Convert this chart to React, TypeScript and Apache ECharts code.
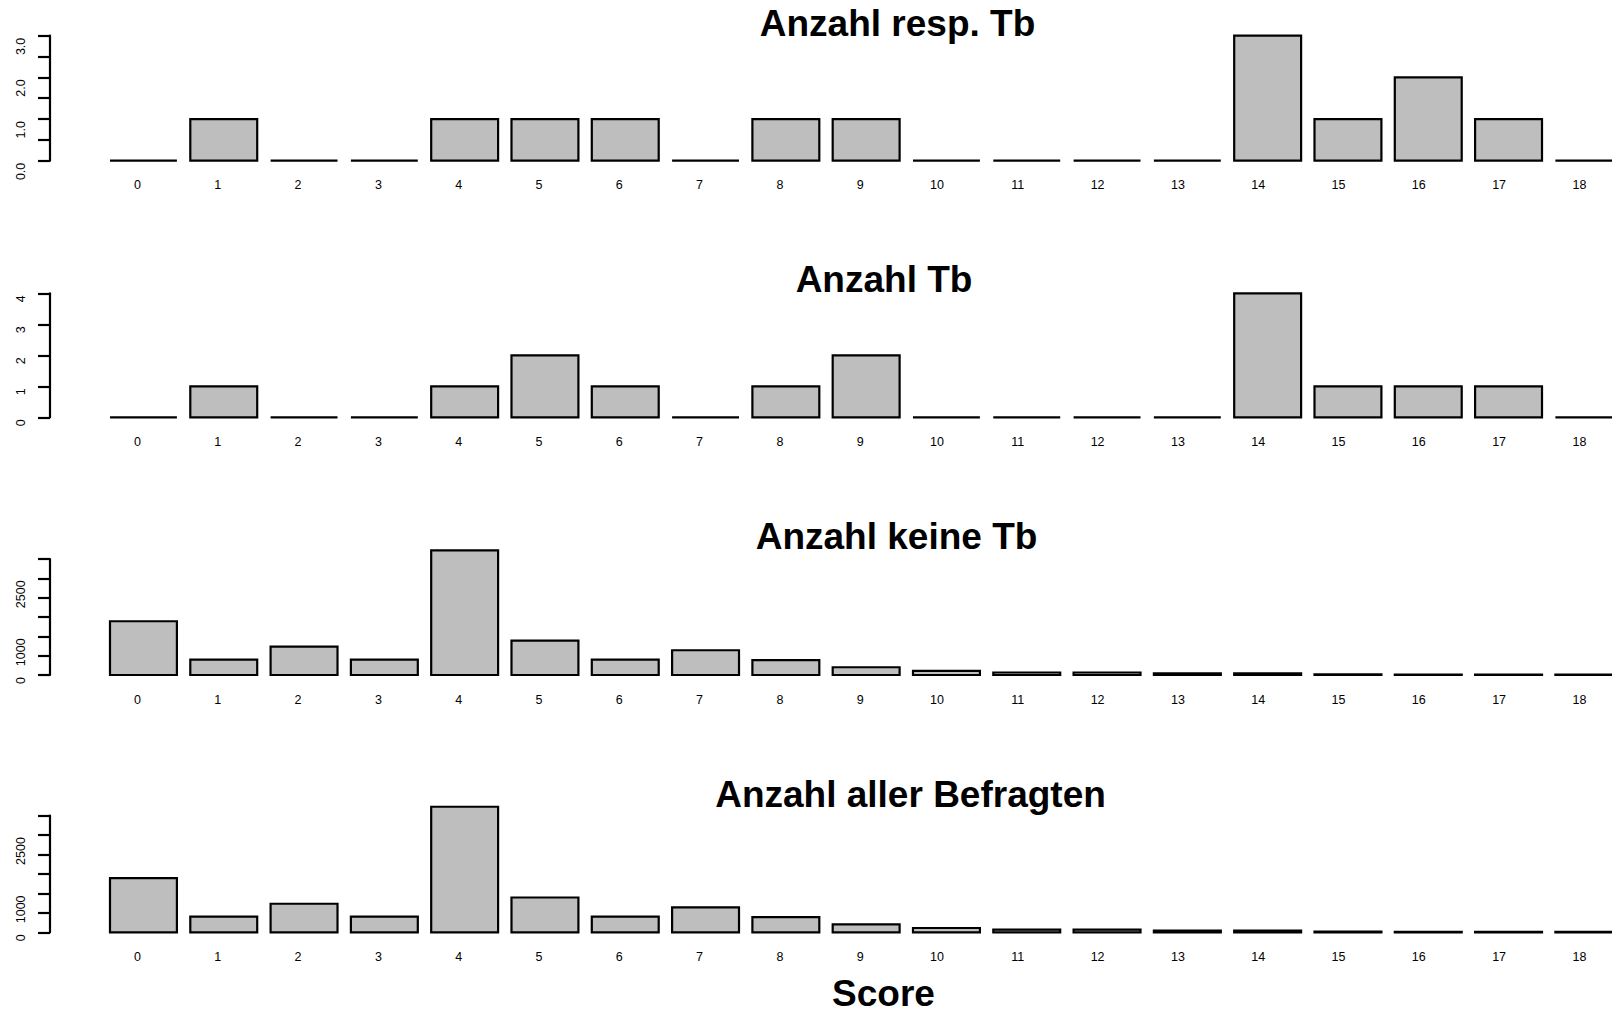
import React, { useEffect, useRef } from "react";
import * as echarts from "echarts";

// Score categories along the x axis
const scores = ["0", "1", "2", "3", "4", "5", "6", "7", "8", "9", "10", "11", "12", "13", "14", "15", "16", "17", "18"];

// Counts per score for each panel
const respTb = [0, 1, 0, 0, 1, 1, 1, 0, 1, 1, 0, 0, 0, 0, 3, 1, 2, 1, 0];
const tb = [0, 1, 0, 0, 1, 2, 1, 0, 1, 2, 0, 0, 0, 0, 4, 1, 1, 1, 0];
const keineTb = [1390, 400, 735, 400, 3225, 890, 400, 640, 385, 200, 106, 65, 65, 40, 40, 15, 12, 10, 8];
const alle = [1395, 405, 735, 405, 3230, 895, 405, 640, 390, 205, 110, 70, 70, 42, 45, 17, 14, 12, 9];

// Panel titles and the overall x label
const titles = ["Anzahl resp. Tb", "Anzahl Tb", "Anzahl keine Tb", "Anzahl aller Befragten"];
const xLabel = "Score";

// y-axis tick settings and the tick labels that are printed
const yTickMax = [3, 4, 3000, 3000];
const yTickStep = [0.5, 1, 500, 500];
const yLabels1 = ["0.0", "1.0", "2.0", "3.0"];
const yLabels2 = ["0", "1", "2", "3", "4"];
const yLabels3 = ["0", "1000", "2500"];
const yLabels4 = ["0", "1000", "2500"];

const FONT = "'Liberation Sans', Arial, Helvetica, sans-serif";

// layout of the four stacked panels (pixels)
const layout = {
  axisX: 50,
  barsLeft: 103.3,
  bandWidth: 80.3,
  baselines: [160.7, 417.3, 675, 932.3],
  tickTops: [35.7, 293.3, 559, 815.7],
  titleX: [897.5, 884, 896.5, 910.5],
  titleY: [23.6, 279, 536, 794],
  xLabelPos: [883.5, 993.2],
};

export default function App() {
  const ref = useRef<HTMLDivElement>(null);

  useEffect(() => {
    if (!ref.current) return;
    const chart = echarts.init(ref.current, null, { renderer: "svg" });

    const panels = [respTb, tb, keineTb, alle];
    const labelSets = [yLabels1, yLabels2, yLabels3, yLabels4];

    const grid: any[] = [];
    const xAxis: any[] = [];
    const yAxis: any[] = [];
    const series: any[] = [];

    panels.forEach((vals, p) => {
      const base = layout.baselines[p];
      const tickTop = layout.tickTops[p];
      const pxPerUnit = (base - tickTop) / yTickMax[p];
      const dataMax = Math.max(...vals);
      const barH = dataMax * pxPerUnit;

      // grid for the bars
      grid.push({
        left: layout.barsLeft,
        width: layout.bandWidth * scores.length,
        top: base - barH,
        height: barH,
      });
      const gBars = grid.length - 1;
      xAxis.push({
        type: "category",
        gridIndex: gBars,
        data: scores,
        boundaryGap: true,
        axisLine: { show: false },
        axisTick: { show: false },
        axisLabel: {
          interval: 0,
          fontSize: 12.5,
          fontFamily: FONT,
          color: "#000",
          margin: 18,
          align: "right",
          padding: [0, 2.5, 0, 0],
        },
      });
      yAxis.push({
        type: "value",
        gridIndex: gBars,
        min: 0,
        max: dataMax,
        show: false,
      });

      // grid carrying the y axis, spanning only the tick range
      grid.push({
        left: layout.axisX,
        width: 1,
        top: tickTop,
        height: base - tickTop,
      });
      const gAxis = grid.length - 1;
      const labels = labelSets[p];
      xAxis.push({ type: "value", gridIndex: gAxis, min: 0, max: 1, show: false });
      yAxis.push({
        type: "value",
        gridIndex: gAxis,
        position: "left",
        min: 0,
        max: yTickMax[p],
        interval: yTickStep[p],
        axisLine: { show: true, lineStyle: { color: "#000", width: 2.2 } },
        axisTick: { show: true, inside: false, length: 12, lineStyle: { color: "#000", width: 2.2 } },
        splitLine: { show: false },
        axisLabel: {
          rotate: 90,
          fontSize: 12.5,
          fontFamily: FONT,
          color: "#000",
          margin: 23,
          align: "right",
          padding: [0, 2, 0, 0],
          showMinLabel: true,
          showMaxLabel: true,
          formatter: (v: number) => {
            const hit = labels.find((l) => Math.abs(parseFloat(l) - v) < 1e-9);
            return hit === undefined ? "" : hit;
          },
        },
      });

      series.push({
        type: "custom",
        xAxisIndex: xAxis.length - 2,
        yAxisIndex: yAxis.length - 2,
        data: vals.map((v, i) => [i, v]),
        renderItem: (params: any, api: any) => {
          const i = api.value(0);
          const v = api.value(1);
          const top = api.coord([i, v]);
          const bottom = api.coord([i, 0]);
          const bw = api.size([1, 0])[0] / 1.2;
          const x = top[0] - bw / 2;
          if (v === 0) {
            return {
              type: "line",
              shape: { x1: x, y1: bottom[1], x2: x + bw, y2: bottom[1] },
              style: { stroke: "#000", lineWidth: 2.2 },
            };
          }
          return {
            type: "rect",
            shape: { x, y: top[1], width: bw, height: bottom[1] - top[1] },
            style: { fill: "#bebebe", stroke: "#000", lineWidth: 2.2 },
          };
        },
      });
    });

    const graphic: any[] = titles.map((t, p) => ({
      type: "text",
      x: layout.titleX[p],
      y: layout.titleY[p],
      style: {
        text: t,
        font: `bold 37px ${FONT}`,
        fill: "#000",
        textAlign: "center",
        textVerticalAlign: "middle",
        align: "center",
        verticalAlign: "middle",
      },
    }));
    graphic.push({
      type: "text",
      x: layout.xLabelPos[0],
      y: layout.xLabelPos[1],
      style: {
        text: xLabel,
        font: `bold 37px ${FONT}`,
        lineHeight: 30,
        fill: "#000",
        textAlign: "center",
        textVerticalAlign: "middle",
        align: "center",
        verticalAlign: "middle",
      },
    });

    chart.setOption({
      animation: false,
      backgroundColor: "#fff",
      grid,
      xAxis,
      yAxis,
      series,
      graphic,
    });

    return () => chart.dispose();
  }, []);

  return (
    <div
      style={{
        position: "fixed",
        left: 0,
        top: 0,
        width: 1612,
        height: 1011,
        overflow: "hidden",
        background: "#fff",
      }}
    >
      <div ref={ref} style={{ width: 1700, height: 1011 }} />
    </div>
  );
}
